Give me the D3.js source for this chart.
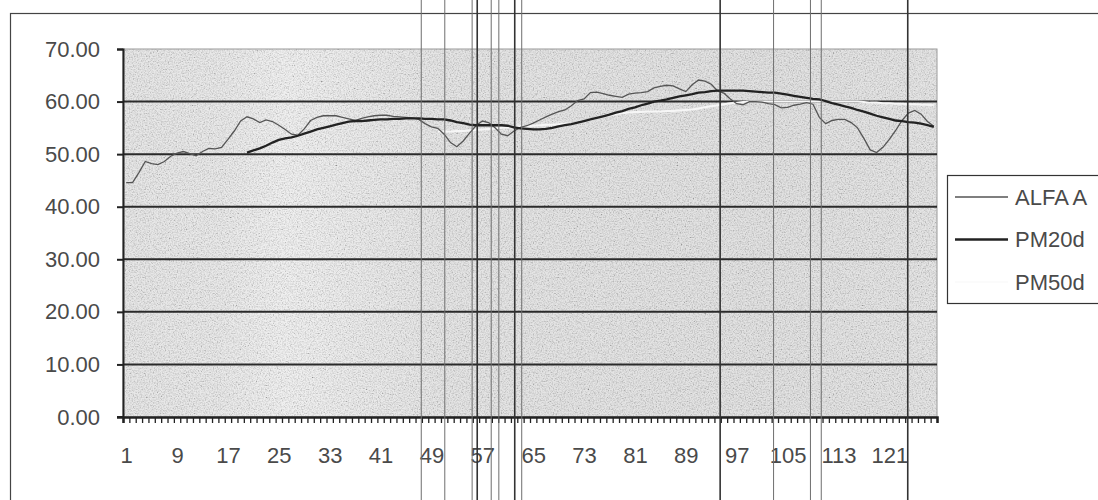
<!DOCTYPE html>
<html>
<head>
<meta charset="utf-8">
<script src="https://cdn.jsdelivr.net/npm/d3@7"></script>
<style>
  body { margin: 0; background: #fff; }
  svg { display: block; font-family: "Liberation Sans", Arial, sans-serif; }
</style>
</head>
<body>
<svg id="chart" width="1098" height="500"></svg>
<script>
// categories 1..128, labelled every 8th
var categories = d3.range(1, 129);
var xTickLabels = [1, 9, 17, 25, 33, 41, 49, 57, 65, 73, 81, 89, 97, 105, 113, 121];
var yTicks = [0, 10, 20, 30, 40, 50, 60, 70];

var seriesNames = ["ALFA A", "PM20d", "PM50d"];

// ALFA A, categories 1..128
var alfaA = [
  44.6, 44.6, 46.5, 48.6, 48.2, 48.0, 48.6, 49.6, 50.2, 50.5,
  50.1, 49.7, 50.5, 51.1, 51.0, 51.3, 52.8, 54.4, 56.3, 57.1,
  56.7, 56.0, 56.5, 56.2, 55.5, 54.7, 53.8, 53.6, 54.8, 56.4,
  57.0, 57.3, 57.3, 57.3, 57.0, 56.7, 56.4, 56.8, 57.1, 57.3,
  57.4, 57.4, 57.2, 57.1, 57.0, 56.9, 56.6, 55.8, 55.2, 54.9,
  53.8, 52.2, 51.4, 52.5, 54.0, 55.4, 56.3, 56.0, 55.0, 53.8,
  53.5, 54.4, 55.1, 55.4, 55.9, 56.5, 57.1, 57.6, 58.1, 58.4,
  59.2, 60.2, 60.5, 61.7, 61.8, 61.5, 61.2, 61.0, 60.8, 61.4,
  61.6, 61.7, 61.9, 62.6, 62.9, 63.1, 63.0, 62.4, 61.9, 63.2,
  64.1, 63.9, 63.3, 62.0, 61.6, 60.5, 59.6, 59.4, 60.0, 60.0,
  59.9, 59.6, 59.4, 58.8, 58.9, 59.3, 59.5, 59.8, 59.5, 57.0,
  55.8, 56.4, 56.6, 56.6, 56.0, 55.0, 53.0, 50.8, 50.3, 51.3,
  52.8, 54.5, 56.4, 57.8, 58.3, 57.6, 56.2, 55.3
];

// PM20d, categories 20..128
var pm20Start = 20;
var pm20d = [
  50.3, 50.7, 51.1, 51.6, 52.2, 52.7, 53.0, 53.2, 53.5, 53.9,
  54.3, 54.7, 55.0, 55.3, 55.6, 55.9, 56.2, 56.3, 56.3, 56.4,
  56.5, 56.6, 56.6, 56.7, 56.7, 56.8, 56.8, 56.8, 56.7, 56.7,
  56.6, 56.6, 56.4, 56.1, 55.9, 55.6, 55.5, 55.5, 55.5, 55.5,
  55.5, 55.4, 55.1, 54.9, 54.8, 54.7, 54.7, 54.8, 55.0, 55.3,
  55.5, 55.7, 56.0, 56.3, 56.6, 56.9, 57.2, 57.5, 57.9, 58.2,
  58.6, 58.9, 59.3, 59.6, 60.0, 60.2, 60.4, 60.7, 61.0, 61.2,
  61.4, 61.7, 61.8, 62.0, 62.1, 62.1, 62.1, 62.1, 62.1, 62.0,
  61.9, 61.8, 61.7, 61.7, 61.5, 61.3, 61.1, 60.9, 60.7, 60.5,
  60.4, 60.1, 59.7, 59.4, 59.1, 58.8, 58.4, 58.1, 57.7, 57.3,
  57.0, 56.7, 56.4, 56.3, 56.1, 56.0, 55.8, 55.5, 55.2
];

// PM50d, categories 50..128
var pm50Start = 50;
var pm50d = [
  54.3, 54.3, 54.3, 54.4, 54.4, 54.5, 54.6, 54.7, 54.8, 54.9,
  55.0, 55.1, 55.2, 55.3, 55.3, 55.4, 55.5, 55.6, 55.6, 55.7,
  55.8, 55.8, 55.9, 56.2, 56.5, 56.8, 57.1, 57.4, 57.6, 57.8,
  57.9, 58.0, 58.0, 58.1, 58.1, 58.1, 58.2, 58.2, 58.3, 58.4,
  58.5, 58.7, 58.9, 59.1, 59.3, 59.5, 59.7, 59.8, 59.9, 60.0,
  60.0, 60.0, 60.0, 60.0, 60.0, 60.0, 60.0, 60.0, 60.0, 60.0,
  60.0, 60.0, 60.0, 60.0, 60.0, 60.0, 60.0, 59.9, 59.8, 59.8,
  59.7, 59.7, 59.6, 59.6, 59.5, 59.5, 59.4, 59.4, 59.3
];

// scanner streaks across the picture, in category units
var darkStreaks = [56.2, 62.1, 94.4, 123.9];
var faintStreaks = [47.4, 51.1, 55.4, 58.4, 59.6, 63.2, 102.8, 108.6, 110.3];

var plot = { left: 123, top: 49, right: 937, bottom: 417 };
var textColor = "#4a4a4a";

var svg = d3.select("#chart");

var x = d3.scaleLinear()
    .domain([0.5, categories.length + 0.5])
    .range([plot.left, plot.right]);
var y = d3.scaleLinear()
    .domain([0, 70])
    .range([plot.bottom, plot.top]);

var defs = svg.append("defs");

var bg = defs.append("linearGradient")
    .attr("id", "bg")
    .attr("x1", "0%").attr("x2", "100%")
    .attr("y1", "0%").attr("y2", "0%");
[["0%", "#d6d6d6"], ["12%", "#dadada"], ["20%", "#e6e6e6"], ["28%", "#dedede"],
 ["40%", "#d3d3d3"], ["60%", "#d1d1d1"], ["80%", "#cecece"], ["100%", "#d3d3d3"]]
  .forEach(function(s) {
    bg.append("stop").attr("offset", s[0]).attr("stop-color", s[1]);
  });

var grain = defs.append("filter")
    .attr("id", "grain")
    .attr("x", 0).attr("y", 0).attr("width", "100%").attr("height", "100%");
grain.append("feTurbulence")
    .attr("type", "fractalNoise")
    .attr("baseFrequency", 0.75)
    .attr("numOctaves", 2)
    .attr("seed", 4);
grain.append("feColorMatrix")
    .attr("type", "matrix")
    .attr("values", "0.9 0.9 0.9 0 -0.55  0.9 0.9 0.9 0 -0.55  0.9 0.9 0.9 0 -0.55  0 0 0 0 1");

// outer chart frame
svg.append("rect")
    .attr("x", 10.5).attr("y", 13.5)
    .attr("width", 1100).attr("height", 500)
    .attr("fill", "#fff")
    .attr("stroke", "#444")
    .attr("stroke-width", 1.2);

// plot area
svg.append("rect")
    .attr("x", plot.left).attr("y", plot.top)
    .attr("width", plot.right - plot.left)
    .attr("height", plot.bottom - plot.top)
    .attr("fill", "url(#bg)");
svg.append("rect")
    .attr("x", plot.left).attr("y", plot.top)
    .attr("width", plot.right - plot.left)
    .attr("height", plot.bottom - plot.top)
    .attr("filter", "url(#grain)")
    .attr("opacity", 0.42);
svg.append("rect")
    .attr("x", plot.left).attr("y", plot.top)
    .attr("width", plot.right - plot.left)
    .attr("height", plot.bottom - plot.top)
    .attr("fill", "none")
    .attr("stroke", "#9a9a9a")
    .attr("stroke-width", 1);

// gridlines
svg.append("g")
    .selectAll("line")
    .data(yTicks.filter(function(d) { return d > 0 && d < 70; }))
    .enter().append("line")
    .attr("x1", plot.left).attr("x2", plot.right)
    .attr("y1", function(d) { return y(d); })
    .attr("y2", function(d) { return y(d); })
    .attr("stroke", "#2a2a2a")
    .attr("stroke-width", 2);

// series lines
function lineFor(start) {
  return d3.line()
    .x(function(d, i) { return x(start + i); })
    .y(function(d) { return y(d); });
}

svg.append("path")
    .datum(pm50d)
    .attr("d", lineFor(pm50Start))
    .attr("fill", "none")
    .attr("stroke", "#f6f6f6")
    .attr("stroke-width", 2);

svg.append("path")
    .datum(alfaA)
    .attr("d", lineFor(1))
    .attr("fill", "none")
    .attr("stroke", "#555")
    .attr("stroke-width", 1.3);

svg.append("path")
    .datum(pm20d)
    .attr("d", lineFor(pm20Start))
    .attr("fill", "none")
    .attr("stroke", "#222")
    .attr("stroke-width", 2.3);

// y axis
var yAxis = svg.append("g")
    .attr("transform", "translate(" + plot.left + ",0)")
    .call(d3.axisLeft(y)
      .tickValues(yTicks)
      .tickFormat(d3.format(".2f"))
      .tickSize(6)
      .tickPadding(17));
yAxis.select(".domain").attr("stroke", "#222").attr("stroke-width", 2);
yAxis.selectAll(".tick line").attr("stroke", "#222").attr("stroke-width", 2);
yAxis.selectAll("text")
    .attr("fill", textColor)
    .style("font-size", "22px");

// x axis: tick at every category boundary
var xTicks = svg.append("g")
    .attr("transform", "translate(0," + plot.bottom + ")")
    .call(d3.axisBottom(x)
      .tickValues(d3.range(0.5, categories.length + 1, 1))
      .tickFormat("")
      .tickSizeOuter(0)
      .tickSize(6));
xTicks.select(".domain").attr("stroke", "#222").attr("stroke-width", 2.5);
xTicks.selectAll(".tick line").attr("stroke", "#222").attr("stroke-width", 1.3);

svg.append("line")
    .attr("x1", plot.left - 6).attr("x2", plot.left)
    .attr("y1", plot.bottom).attr("y2", plot.bottom)
    .attr("stroke", "#222").attr("stroke-width", 2);

var xLabels = svg.append("g")
    .attr("transform", "translate(0," + plot.bottom + ")")
    .call(d3.axisBottom(x)
      .tickValues(xTickLabels)
      .tickFormat(d3.format("d"))
      .tickSize(0)
      .tickPadding(30));
xLabels.select(".domain").remove();
xLabels.selectAll("text")
    .attr("fill", textColor)
    .style("font-size", "22px");

// scanner streaks
svg.append("g")
    .selectAll("line")
    .data(faintStreaks)
    .enter().append("line")
    .attr("x1", function(d) { return x(d); })
    .attr("x2", function(d) { return x(d); })
    .attr("y1", 0).attr("y2", 500)
    .attr("stroke", "#6e6e6e")
    .attr("stroke-width", 1);
svg.append("g")
    .selectAll("line")
    .data(darkStreaks)
    .enter().append("line")
    .attr("x1", function(d) { return x(d); })
    .attr("x2", function(d) { return x(d); })
    .attr("y1", 0).attr("y2", 500)
    .attr("stroke", "#333")
    .attr("stroke-width", 1.6);

// legend
var legend = svg.append("g").attr("transform", "translate(947,175)");
legend.append("rect")
    .attr("x", 0.5).attr("y", 0.5)
    .attr("width", 200).attr("height", 128)
    .attr("fill", "#fff")
    .attr("stroke", "#333")
    .attr("stroke-width", 1.2);

var legendStroke = ["#555", "#222", "#fbfbfb"];
var legendWidth = [1.3, 2.3, 2];
seriesNames.forEach(function(name, i) {
  var ly = 22 + i * 42.5;
  legend.append("line")
    .attr("x1", 8).attr("x2", 61)
    .attr("y1", ly).attr("y2", ly)
    .attr("stroke", legendStroke[i])
    .attr("stroke-width", legendWidth[i]);
  legend.append("text")
    .attr("x", 68).attr("y", ly)
    .attr("dy", "0.36em")
    .attr("fill", textColor)
    .style("font-size", "22px")
    .text(name);
});
</script>
</body>
</html>
